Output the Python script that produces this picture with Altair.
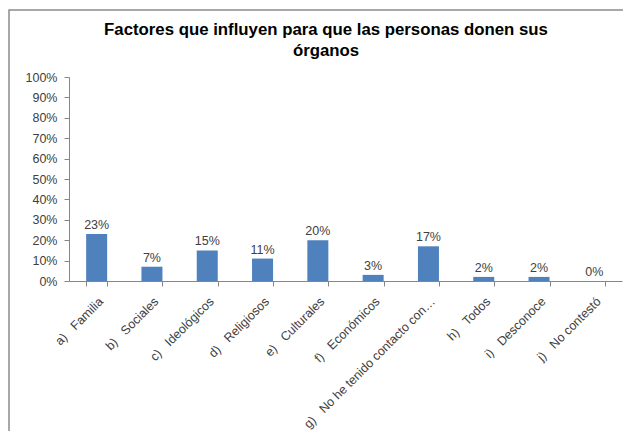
import altair as alt
import pandas as pd

NB = "\u00a0"
categories = [
    "a)" + NB * 3 + "Familia",
    "b)" + NB * 3 + "Sociales",
    "c)" + NB * 3 + "Ideológicos",
    "d)" + NB * 3 + "Religiosos",
    "e)" + NB * 3 + "Culturales",
    "f)" + NB * 3 + "Económicos",
    "g)" + NB * 3 + "No he tenido contacto con…",
    "h)" + NB * 3 + "Todos",
    "i)" + NB * 3 + "Desconoce",
    "j)" + NB * 3 + "No contestó",
]
values = [0.23, 0.07, 0.15, 0.11, 0.20, 0.03, 0.17, 0.02, 0.02, 0.00]
y_ticks = [0, 0.1, 0.2, 0.3, 0.4, 0.5, 0.6, 0.7, 0.8, 0.9, 1.0]
title_lines = ["Factores que influyen para que las personas donen sus", "órganos"]

df = pd.DataFrame({"cat": categories, "val": values})

FONT = "Liberation Sans"
TXT = "#404040"
AX = "#868686"

base = alt.Chart(df)

x_enc = alt.X(
    "cat:N",
    sort=categories,
    scale=alt.Scale(paddingInner=0.62, paddingOuter=0.31),
    axis=alt.Axis(
        title=None,
        labelAngle=-45,
        labelAlign="right",
        labelBaseline="middle",
        labelPadding=13,
        labelOffset=4,
        labelLimit=400,
        labelFont=FONT,
        labelFontSize=12.5,
        labelColor=TXT,
        labelOverlap=False,
        domainColor=AX,
        tickColor=AX,
        tickSize=5,
        tickBand="extent",
    ),
)
y_enc = alt.Y(
    "val:Q",
    scale=alt.Scale(domain=[0, 1]),
    axis=alt.Axis(
        title=None,
        values=y_ticks,
        tickCount=11,
        format=".0%",
        grid=False,
        labelFont=FONT,
        labelFontSize=12.5,
        labelColor=TXT,
        labelPadding=7,
        labelOverlap=False,
        domainColor=AX,
        tickColor=AX,
        tickSize=5,
    ),
)

bars = base.mark_bar(color="#4F81BD").encode(x=x_enc, y=y_enc)

labels = base.mark_text(
    baseline="bottom", dy=-2, font=FONT, fontSize=12.5, color=TXT
).encode(
    x=x_enc,
    y=y_enc,
    text=alt.Text("val:Q", format=".0%"),
)

one = pd.DataFrame({"k": [0]})

border = alt.Chart(one).mark_rect(
    fill=None, stroke="#8c8c8c", strokeWidth=1.5
).encode(
    x=alt.value(-60), x2=alt.value(700), y=alt.value(-67), y2=alt.value(500)
)

title1 = alt.Chart(one).mark_text(
    text=title_lines[0], font=FONT, fontSize=16.8, fontWeight="bold",
    color="black", align="center", baseline="middle",
).encode(x=alt.value(257), y=alt.value(-47))

title2 = alt.Chart(one).mark_text(
    text=title_lines[1], font=FONT, fontSize=16.8, fontWeight="bold",
    color="black", align="center", baseline="middle",
).encode(x=alt.value(257), y=alt.value(-26))

chart = (
    alt.layer(border, title1, title2, bars, labels)
    .properties(
        width=553,
        height=204,
        autosize=alt.AutoSizeParams(type="none"),
        padding={"left": 61, "top": 69, "right": 1, "bottom": 150},
    )
    .configure_view(stroke=None)
)

chart.save("out.html", embed_options={"renderer": "svg", "actions": False})
